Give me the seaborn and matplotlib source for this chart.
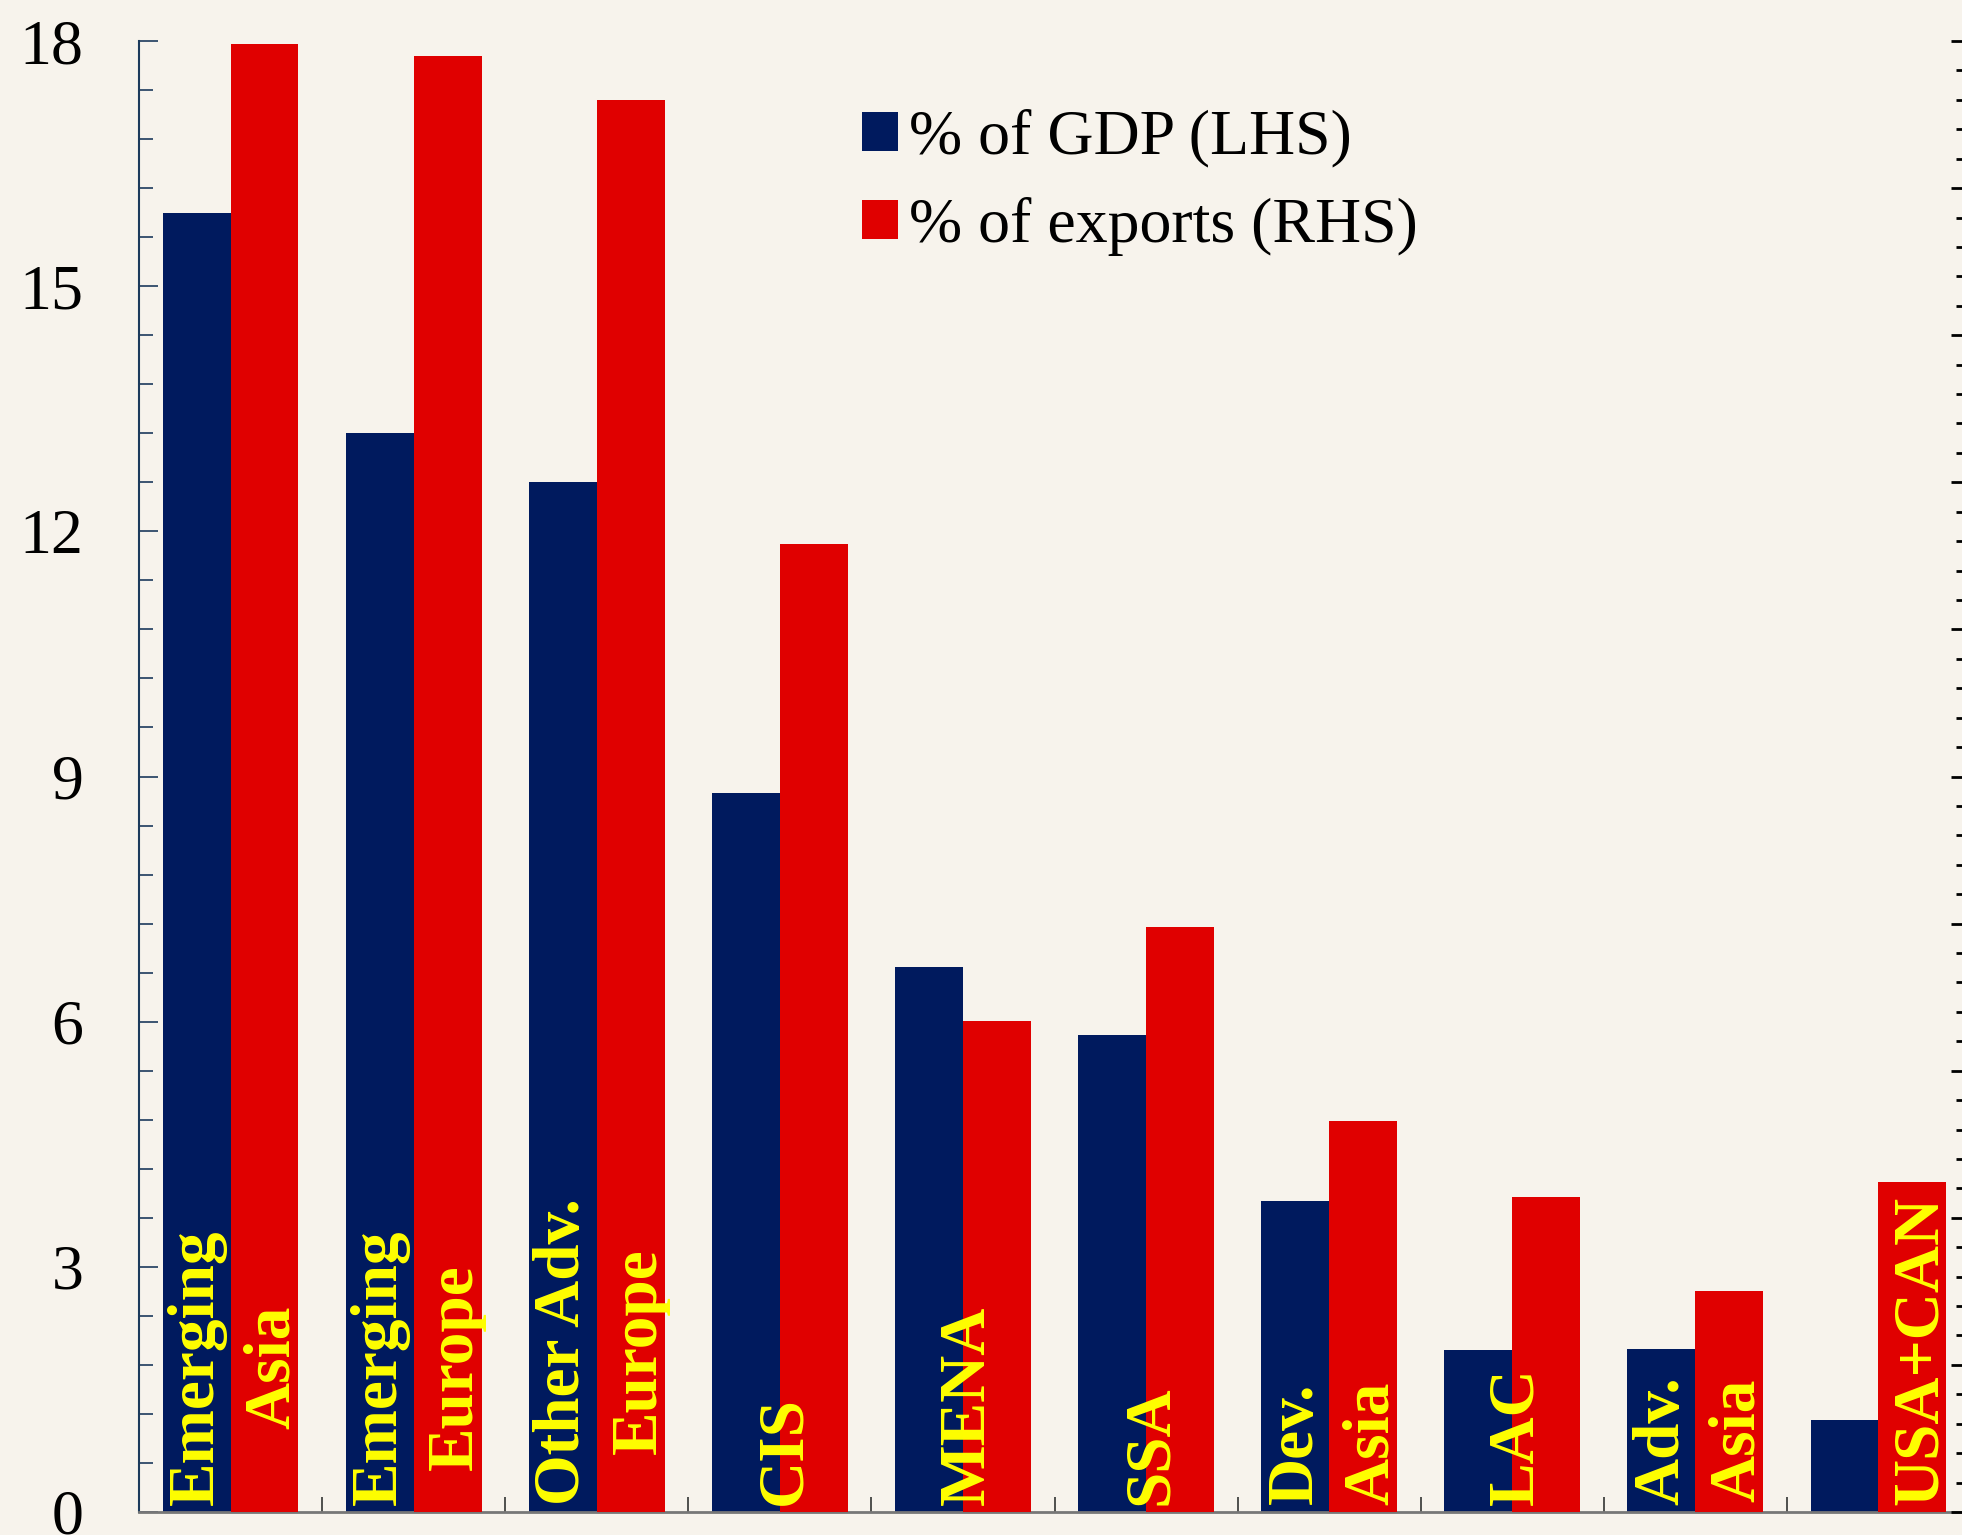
import numpy as np
import pandas as pd
import matplotlib
matplotlib.use("Agg")
import matplotlib.pyplot as plt
import seaborn as sns
from matplotlib.patches import Patch
from matplotlib.ticker import MultipleLocator, FixedLocator

# data
regions = ["Emerging\nAsia", "Emerging\nEurope", "Other Adv.\nEurope", "CIS", "MENA",
           "SSA", "Dev.\nAsia", "LAC", "Adv.\nAsia", "\nUSA+CAN"]
gdp_share = [15.9, 13.2, 12.6, 8.8, 6.67, 5.84, 3.81, 1.98, 1.99, 1.13]      # LHS
export_share = [49.9, 49.5, 48.0, 32.9, 16.7, 19.9, 13.3, 10.7, 7.5, 11.2]  # RHS

gdp_label = "% of GDP (LHS)"
exp_label = "% of exports (RHS)"
navy = "#001a5e"
red = "#e00000"
bg = "#f7f3ec"

sns.set_style("white")
plt.rcParams["font.family"] = ["Liberation Serif", "DejaVu Serif"]
plt.rcParams["text.color"] = "black"
plt.rcParams["ytick.color"] = "black"

# one table per axis; the other series is kept at zero so seaborn still dodges
n = len(regions)
df_left = pd.DataFrame({"region": regions * 2,
                        "value": gdp_share + [0] * n,
                        "series": [gdp_label] * n + [exp_label] * n})
df_right = pd.DataFrame({"region": regions * 2,
                         "value": [0] * n + export_share,
                         "series": [gdp_label] * n + [exp_label] * n})
pal = {gdp_label: navy, exp_label: red}
order = [gdp_label, exp_label]

fig = plt.figure(figsize=(19.62, 15.35), dpi=100, facecolor=bg)
ax = fig.add_axes([139 / 1962, 23 / 1535, (1970 - 139) / 1962, (1512 - 41) / 1535])
ax.set_facecolor("none")

sns.barplot(data=df_left, x="region", y="value", hue="series", hue_order=order,
            palette=pal, width=0.742, gap=0, linewidth=0, saturation=1,
            legend=False, ax=ax)
ax2 = ax.twinx()
sns.barplot(data=df_right, x="region", y="value", hue="series", hue_order=order,
            palette=pal, width=0.742, gap=0, linewidth=0, saturation=1,
            legend=False, ax=ax2)

ax.set_xlim(-0.5, 9.5)
ax.set_ylim(0, 18)
ax2.set_ylim(0, 50)
ax.set_xlabel("")
ax.set_ylabel("")
ax2.set_ylabel("")

# left axis
ax.yaxis.set_major_locator(MultipleLocator(3))
ax.yaxis.set_minor_locator(MultipleLocator(0.6))
ax.tick_params(axis="y", which="major", direction="in", length=13.5, width=1.2,
               color="#1c3a5c", labelcolor="black", labelsize=46, pad=40)
ax.tick_params(axis="y", which="minor", direction="in", length=10, width=1.2,
               color="#1c3a5c")

# right axis, ticks only
ax2.yaxis.set_major_locator(MultipleLocator(5))
ax2.yaxis.set_minor_locator(MultipleLocator(1))
ax2.tick_params(axis="y", which="major", direction="in", length=13.5, width=2,
                color="black", labelright=False)
ax2.tick_params(axis="y", which="minor", direction="in", length=10, width=2,
                color="black")

# group separators on the bottom axis
ax.set_xticks([])
ax.xaxis.set_minor_locator(FixedLocator(np.arange(0.5, 9.5, 1)))
ax.tick_params(axis="x", which="minor", direction="in", length=11, width=1.2,
               color="#333333", bottom=True)
ax2.set_xticks([])

for a in (ax, ax2):
    a.spines["top"].set_visible(False)
    a.spines["right"].set_visible(False)
ax2.spines["left"].set_visible(False)
ax2.spines["bottom"].set_visible(False)
ax.spines["left"].set_color("#1c3a5c")
ax.spines["left"].set_linewidth(1.5)
ax.spines["bottom"].set_color("#777777")
ax.spines["bottom"].set_linewidth(2)

# region names inside the bars
for i, name in enumerate(regions):
    ax2.text(i + 0.025, 0.25, name, rotation=90, ha="center", va="bottom",
             multialignment="center", color="#ffff00", fontsize=47,
             fontweight="bold", linespacing=1.35)

handles = [Patch(facecolor=navy, edgecolor="none", label=gdp_label),
           Patch(facecolor=red, edgecolor="none", label=exp_label)]
leg = ax2.legend(handles=handles, loc="upper left", bbox_to_anchor=(0.381, 0.971),
                 frameon=False, fontsize=46, handlelength=0.56, handleheight=0.56,
                 handletextpad=0.18, labelspacing=0.46, borderaxespad=0)
for t in leg.get_texts():
    t.set_color("black")

fig.savefig("out.png", dpi=100, facecolor=bg)
